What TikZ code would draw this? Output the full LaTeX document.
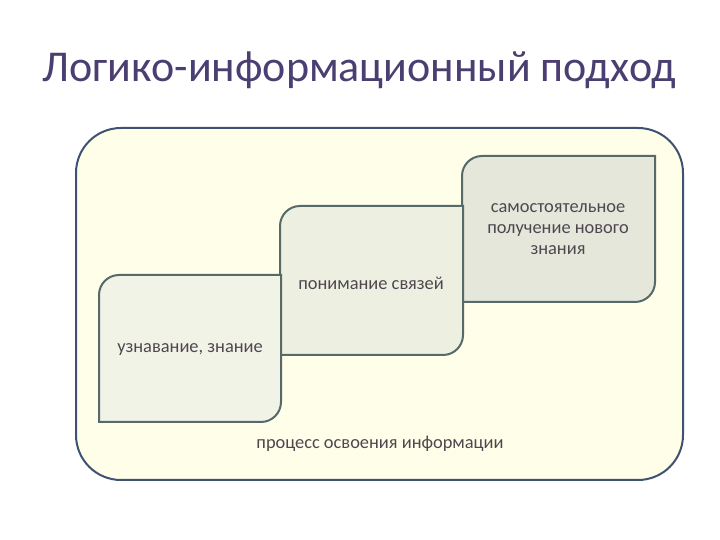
\documentclass[tikz,border=0pt]{standalone}
\usepackage{fontspec}
\setmainfont{Carlito}
\usepackage{tikz}
\usetikzlibrary{positioning}
\definecolor{titlecol}{HTML}{4B3F72}
\definecolor{textcol}{HTML}{4F4750}
\definecolor{outerfill}{HTML}{FFFEE8}
\definecolor{outerline}{HTML}{3F5272}
\definecolor{stepfill}{HTML}{EDF0E1}
\definecolor{stepline}{HTML}{566A6A}
\tikzstyle{outerbox}=[draw=outerline,fill=outerfill,line width=2pt,rounded corners=45pt]
\tikzstyle{stepbox}=[draw=stepline,fill=stepfill,line width=2pt]
\tikzstyle{label}=[text=textcol,font=\fontsize{18.4}{21}\selectfont,align=center]

\begin{document}
\begin{tikzpicture}[x=1pt,y=1pt]
\useasboundingbox[fill=white] (0,0) rectangle (720,540);
\node[text=titlecol,font=\fontsize{44}{50}\selectfont] (title) at (359,470) {Логико-информационный подход};
\draw[outerbox] (76,60) rectangle (683,412);
\draw[stepbox,fill=stepfill!92!gray] (462,238) -- (462,364) arc(180:90:20) -- (655,384) -- (655,258) arc(0:-90:20) -- cycle;
\draw[stepbox] (280,185) -- (280,314) arc(180:90:20) -- (463,334) -- (463,205) arc(0:-90:20) -- cycle;
\draw[stepbox,fill=stepfill!80!white] (99,118) -- (99,245) arc(180:90:20) -- (281,265) -- (281,138) arc(0:-90:20) -- cycle;
\node[label] (know) at (190,190) {узнавание, знание};
\node[label] (links) at (371,257) {понимание связей};
\node[label] (newknow) at (558,311) {самостоятельное\\получение нового\\знания};
\node[label] (process) at (380,96) {процесс освоения информации};
\end{tikzpicture}
\end{document}
